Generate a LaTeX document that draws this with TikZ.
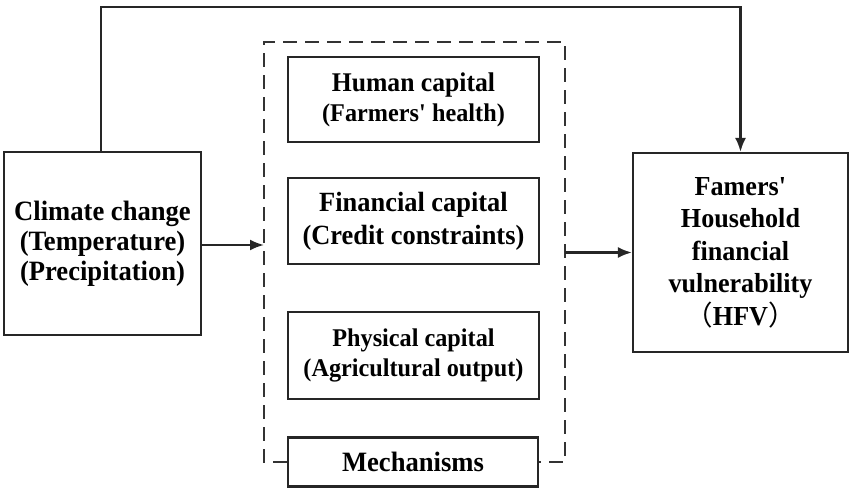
\documentclass[tikz,border=0pt]{standalone}
\usepackage{fontspec}
\setmainfont{Liberation Serif}[FakeStretch=0.95]
\newfontfamily\cjk{Noto Sans CJK SC}
\usetikzlibrary{arrows.meta}
\newcommand{\sq}{\XeTeXglyph\XeTeXglyphindex "quotesingle"\relax}
\begin{document}
\begin{tikzpicture}[x=1pt,y=1pt,
  box/.style={draw=black!85, line width=2.2pt, inner sep=0pt, align=center, font=\bfseries},
  conn/.style={draw=black!85, line width=2.2pt},
  arr/.style={conn, -{Latex[length=14pt,width=11pt]}},
  dashbox/.style={draw=black!80, line width=2.4pt, dash pattern=on 14pt off 8pt}]
\useasboundingbox (0,0) rectangle (852,488);
\node[box, minimum width=197pt, minimum height=183pt, font=\bfseries\fontsize{28}{30}\selectfont]
  (cc) at (102.5,244.5) {Climate change\\(Temperature)\\(Precipitation)};
\node[box, minimum width=215pt, minimum height=199pt, font=\bfseries\fontsize{27.5}{32.5}\selectfont]
  (hfv) at (740.5,235.5) {Famers\sq\\Household\\financial\\vulnerability\\{\mdseries\cjk （}HFV{\mdseries\cjk ）}};
\node[box, minimum width=251pt, minimum height=85pt, font=\bfseries\fontsize{27}{30}\selectfont]
  (hum) at (413.5,388.5) {Human capital\\{\fontsize{25.5}{30}\selectfont (Farmers\sq\ health)}};
\node[box, minimum width=251pt, minimum height=86pt, font=\bfseries\fontsize{27.8}{33}\selectfont]
  (fin) at (413.5,267) {Financial capital\\(Credit constraints)};
\node[box, minimum width=251pt, minimum height=87pt, font=\bfseries\fontsize{25.5}{30}\selectfont]
  (phy) at (413.5,132.5) {Physical capital\\(Agricultural output)};
\node[box, minimum width=250pt, minimum height=49pt, font=\bfseries\fontsize{28}{30}\selectfont]
  (mech) at (413,26) {Mechanisms};
\coordinate (dTL) at (264,446);
\coordinate (dBR) at (565,26);
\draw[dashbox] (mech.west) -- (dTL |- mech.west) -- (dTL) -- (dTL -| dBR) -- (dBR) -- (mech.east);
\coordinate (tl) at (101,481);
\draw[arr] (cc.north -| tl) -- (tl) -| (hfv.north);
\draw[arr] (cc.east |- 0,243) -- (dTL |- 0,243);
\draw[arr] (dBR |- hfv.west) -- (hfv.west);
\end{tikzpicture}
\end{document}
